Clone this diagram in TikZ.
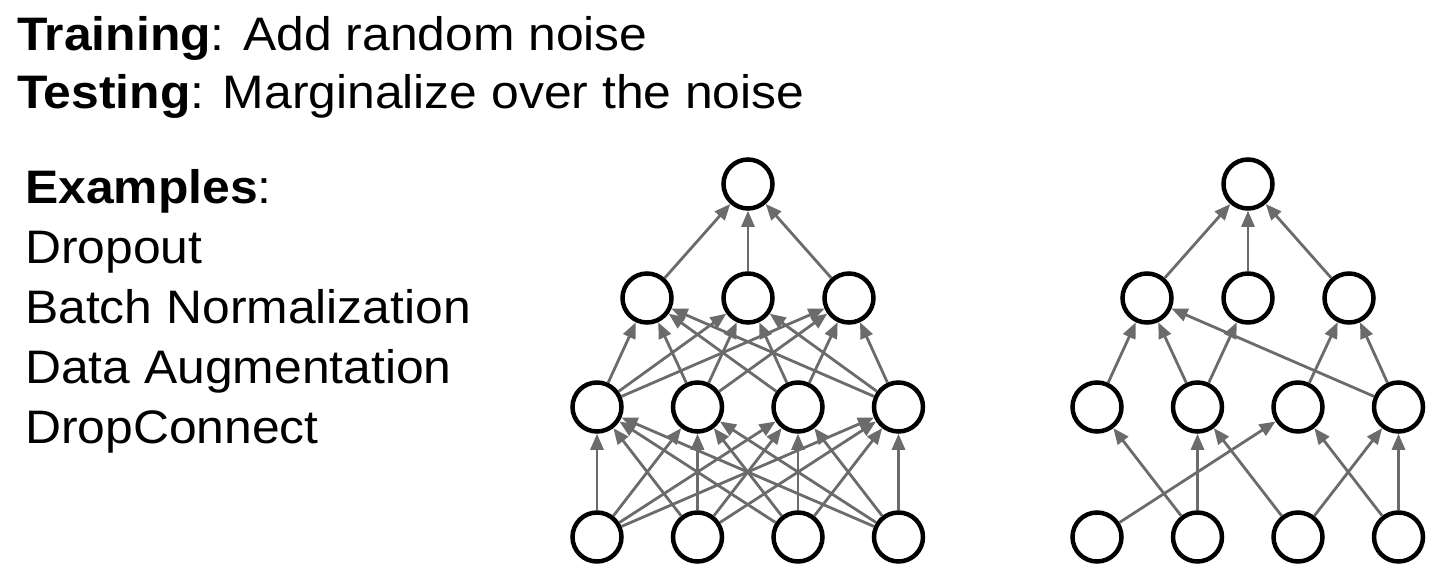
\documentclass[tikz,border=0pt]{standalone}
\usepackage{fontspec}
\setmainfont{Liberation Sans}[FakeStretch=1.06]
\usetikzlibrary{arrows.meta}
\definecolor{arrowgray}{HTML}{6B6B6B}
\tikzset{
  neuron/.style={circle, draw=black, line width=4.5pt, minimum size=49pt, inner sep=0pt},
  conn/.style={draw=arrowgray, line width=2.8pt, -{Triangle[length=16pt,width=13pt]}},
  txt/.style={anchor=base west, inner sep=0pt, font=\fontsize{47pt}{56pt}\selectfont}
}
\begin{document}
\begin{tikzpicture}[x=1pt,y=-1pt]
\useasboundingbox (0,0) rectangle (1452,584);
% text
\node[txt] (t1) at (17,50) {\textbf{Training}: Add random noise};
\node[txt] (t2) at (17,108) {\textbf{Testing}: Marginalize over the noise};
\node[txt] (e0) at (25,203) {\textbf{Examples}:};
\node[txt] (e1) at (25,263) {Dropout};
\node[txt] (e2) at (25,323) {Batch Normalization};
\node[txt] (e3) at (25,383) {Data Augmentation};
\node[txt] (e4) at (25,443) {DropConnect};
% networks
\foreach \p/\ox in {L/0, R/500}{
  \node[neuron] (\p o) at (748+\ox,184) {};
  \foreach \i in {1,2,3}{
    \node[neuron] (\p m\i) at ({647+\ox+101*(\i-1)},298) {};
  }
  \foreach \i in {1,2,3,4}{
    \node[neuron] (\p h\i) at ({597+\ox+100.5*(\i-1)},407) {};
    \node[neuron] (\p b\i) at ({597+\ox+100.5*(\i-1)},537) {};
  }
}
% left: fully connected
\foreach \i in {1,2,3,4}{
  \foreach \j in {1,2,3,4}{
    \draw[conn] (Lb\i) -- (Lh\j);
  }
  \foreach \j in {1,2,3}{
    \draw[conn] (Lh\i) -- (Lm\j);
  }
}
\foreach \j in {1,2,3}{
  \draw[conn] (Lm\j) -- (Lo);
}
% right: dropped connections
\foreach \j in {1,2,3}{
  \draw[conn] (Rm\j) -- (Ro);
}
\foreach \a/\b in {h1/m1, h2/m1, h2/m2, h4/m1, h3/m3, h4/m3}{
  \draw[conn] (R\a) -- (R\b);
}
\foreach \a/\b in {b1/h3, b2/h1, b2/h2, b3/h2, b3/h4, b4/h3, b4/h4}{
  \draw[conn] (R\a) -- (R\b);
}
\end{tikzpicture}
\end{document}
